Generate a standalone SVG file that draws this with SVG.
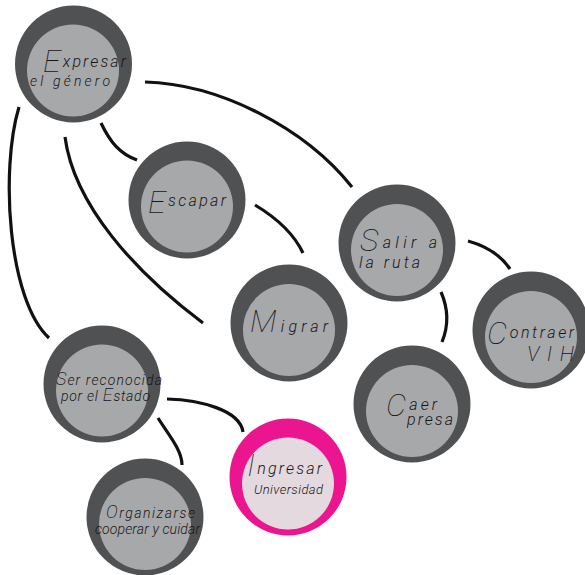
<svg xmlns="http://www.w3.org/2000/svg" width="585" height="575" viewBox="0 0 585 575">
<style>
.o{fill:#505153}.i{fill:#a7a8aa}.po{fill:#ec1590}.pi{fill:#e3d9de}
.c{fill:none;stroke:#111;stroke-width:3.2}
text{font-family:"Roboto","Liberation Sans",sans-serif;font-style:italic;font-weight:300;fill:#161618;font-size:14px}
.w{font-size:16px}
.b{font-size:32px;font-weight:100}.s{font-size:18px;font-weight:200}.v{font-size:21px;font-weight:200}
</style>
<rect width="585" height="575" fill="#fff"/>
<g id="connectors">
<path class="c" d="M145 82C220 84 305 128 352 187"/>
<path class="c" d="M101 123C110 142 120 154 137 160"/>
<path class="c" d="M65 137C74 205 135 272 203 323"/>
<path class="c" d="M19 107C0 170 8 300 49 338"/>
<path class="c" d="M255 205C275 217 293 232 303 253"/>
<path class="c" d="M468 241C486 246 500 254 510 269"/>
<path class="c" d="M441 292C448 308 449 325 442 342"/>
<path class="c" d="M167 399C200 400 240 410 243 432"/>
<path class="c" d="M158 418C168 434 182 450 182 465"/>
</g>
<g id="expresar"><circle class="o" cx="73.500" cy="64" r="58.500"/><circle class="i" cx="73" cy="70.500" r="46"/>
<text class="w" x="43" y="72" textLength="83" lengthAdjust="spacing"><tspan class="b">E</tspan><tspan dy="-5">xpresar</tspan></text>
<text x="30" y="86" textLength="80" lengthAdjust="spacing">el género</text></g>
<g id="escapar"><circle class="o" cx="187" cy="200" r="58.500"/><circle class="i" cx="187" cy="206.500" r="46"/>
<text class="w" x="148" y="213" textLength="78" lengthAdjust="spacing"><tspan class="b">E</tspan><tspan dy="-7">scapar</tspan></text></g>
<g id="salir"><circle class="o" cx="397" cy="243" r="58.500"/><circle class="i" cx="397" cy="250" r="46"/>
<text class="w" x="360" y="251" textLength="77" lengthAdjust="spacing"><tspan class="b">S</tspan><tspan dy="-3">alir a</tspan></text>
<text class="w" x="359" y="268" textLength="61" lengthAdjust="spacing">la ruta</text></g>
<g id="contraer"><circle class="o" cx="531" cy="330" r="58.500"/><circle class="i" cx="531" cy="337" r="46"/>
<text class="w" x="487" y="344" textLength="87" lengthAdjust="spacing"><tspan class="b">C</tspan><tspan dy="-6">ontraer</tspan></text>
<text x="527" y="361" textLength="47" lengthAdjust="spacing" class="v">VIH</text></g>
<g id="migrar"><circle class="o" cx="289" cy="323" r="58.500"/><circle class="i" cx="289" cy="330" r="46"/>
<text class="w" x="250" y="332" textLength="78" lengthAdjust="spacing"><tspan class="b">M</tspan>igrar</text></g>
<g id="caer"><circle class="o" cx="412" cy="404" r="58.500"/><circle class="i" cx="412" cy="411" r="46"/>
<text class="w" x="386" y="416" textLength="51" lengthAdjust="spacing"><tspan class="b">C</tspan><tspan dy="-6">aer</tspan></text>
<text class="w" x="407" y="425" textLength="46" lengthAdjust="spacing">presa</text></g>
<g id="ser"><circle class="o" cx="102" cy="384" r="58.500"/><circle class="i" cx="102" cy="390.500" r="46"/>
<text x="56" y="385" textLength="106" lengthAdjust="spacing"><tspan class="s">S</tspan>er reconocida</text>
<text x="61" y="401" textLength="89" lengthAdjust="spacing">por el <tspan class="s">E</tspan>stado</text></g>
<g id="organizarse"><circle class="o" cx="145" cy="517" r="58.500"/><circle class="i" cx="145" cy="524" r="46"/>
<text x="106" y="518" textLength="89" lengthAdjust="spacing"><tspan class="s">O</tspan>rganizarse</text>
<text x="95" y="534" textLength="105" lengthAdjust="spacing">cooperar y cuidar</text></g>
<g id="ingresar"><circle class="po" cx="288" cy="477" r="58.500"/><circle class="pi" cx="288" cy="483.500" r="46"/>
<text class="w" x="247" y="476" textLength="75" lengthAdjust="spacing"><tspan class="b">I</tspan><tspan dy="-2">ngresar</tspan></text>
<text x="254" y="494" textLength="69" lengthAdjust="spacing" style="font-size:13px">Universidad</text></g>
</svg>
